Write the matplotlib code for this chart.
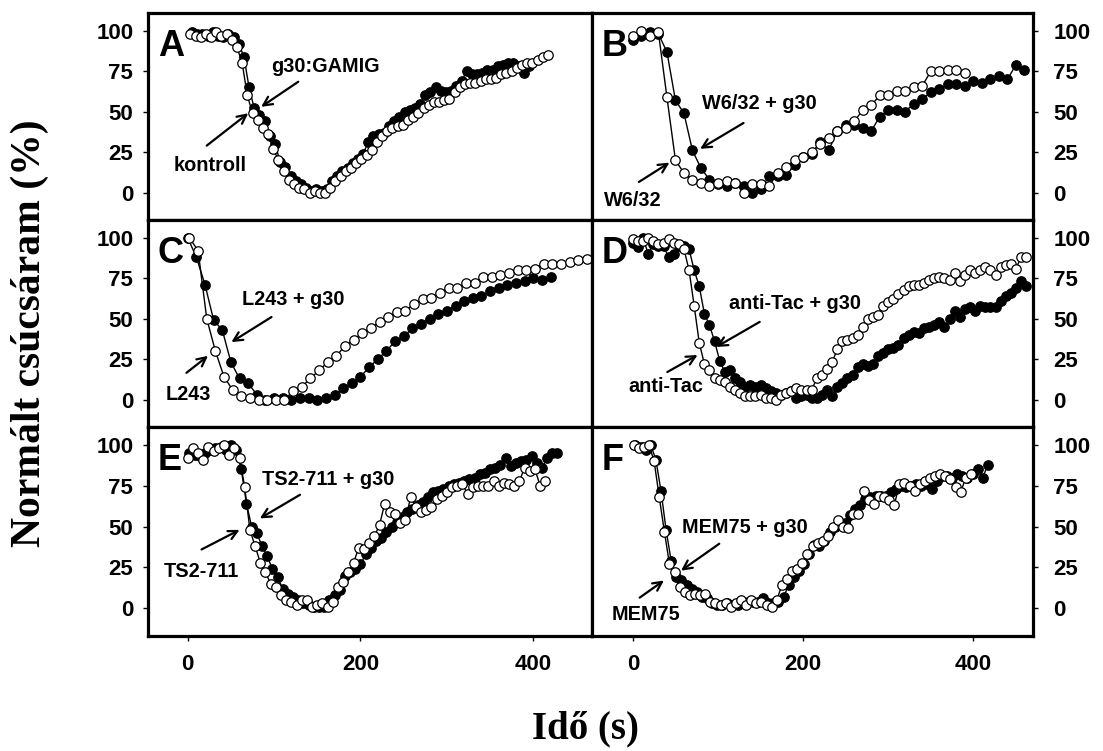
import numpy as np
import matplotlib.pyplot as plt

# --- data (normalised peak current, %) ---
# A: kontroll (open) vs g30:GAMIG (filled)
a_fill = [99,98,98,97,99,97,96,98,96,92, 84,65,52,48,44,35,30,19,16,10,
          7,5,3,1,2,1,2,7,10,13, 15,18,21,24,31,35,36,37,41,44,
          47,50,51,52,55,60,62,65,63,62, 63,66,69,75,73,73,74,76,76,78,
          79,80,80,78,74,78]
a_open = [98,97,96,98,96,99,97,98,94,90, 80,60,49,45,40,36,27,20,13,8,
          5,3,2,0,1,0,0,3,7,10, 13,15,18,21,23,26,31,35,38,40,
          41,42,45,47,49,52,54,56,56,57, 58,62,65,67,68,68,69,70,70,71,
          73,74,75,77,79,80,80,82,84,85]
# B: W6/32 (open) vs W6/32 + g30 (filled)
b_fill = [94,97,99,98,87,57,49,26,15,8, 5,4,6,4,0,2,10,10,11,17,
          22,24,31,26,38,42,42,40,38,47, 51,51,50,55,58,62,64,67,67,66,
          69,68,70,72,70,79,76]
b_open = [97,100,97,99,59,20,12,8,6,4, 6,7,6,0,5,5,4,12,16,20,
          22,25,30,34,38,40,44,51,54,60, 60,63,63,65,66,75,75,76,76,74]
# C: L243 (open) vs L243 + g30 (filled)
c_fill = [100,88,71,49,43,23,13,10,3,0, 1,1,0,1,1,0,1,3,7,10,
          14,20,25,30,36,39,44,47,50,53, 55,58,61,63,64,67,69,71,72,73,
          75,74,76]
c_open = [100,92,50,30,14,6,2,1,0,0, 0,0,5,8,13,18,23,27,33,37,
          41,44,48,51,54,55,59,62,63,66, 69,69,72,72,76,76,77,78,80,80,
          81,84,84,84,85,86,87]
# D: anti-Tac (open) vs anti-Tac + g30 (filled)
d_fill = [97,94,100,90,96,95,95,88,90,95, 95,93,80,70,53,46,36,24,17,18,
          13,11,8,9,8,9,7,5,4,3, 4,5,1,2,3,1,1,3,6,2,
          8,10,13,15,20,22,21,22,27,29, 31,32,34,38,40,42,41,44,45,46,
          48,45,50,55,51,56,57,55,58,57, 57,57,61,64,66,69,73,70]
d_open = [99,98,98,100,98,96,97,99,97,96, 93,80,58,35,22,18,13,12,11,8,
          6,4,2,2,2,3,1,1,0,3, 4,5,7,6,6,6,13,15,19,23,
          31,36,37,38,40,45,50,51,52,58, 60,62,65,68,70,71,71,72,74,75,
          76,75,74,78,73,77,80,78,80,82, 80,77,82,83,84,81,88,88]
# E: TS2-711 (open) vs TS2-711 + g30 (filled)
e_fill = [95,94,93,95,97,98,99,97,100,97, 85,64,50,46,38,32,24,19,12,9,
          7,5,3,2,1,1,1,5,8,11, 20,22,24,27,33,37,41,43,47,50,
          53,56,59,61,63,65,68,71,72,73, 75,76,77,78,79,80,82,83,85,86,
          88,92,87,89,90,91,93,89,86,92, 95,95]
e_open = [92,98,95,91,99,96,98,100,94,98, 92,74,48,38,28,22,15,13,8,5,
          4,2,5,5,1,2,3,1,4,13, 16,22,28,37,36,40,44,51,64,59,
          58,52,54,68,62,59,60,62,67,69, 71,74,75,76,70,74,75,75,75,78,
          75,77,76,75,78,86,84,85,75,78]
# F: MEM75 (open) vs MEM75 + g30 (filled)
f_fill = [100,99,97,100,91,72,48,29,19,17, 14,12,10,7,6,3,2,2,3,2,
          2,3,4,4,4,6,3,3,4,7, 14,19,23,27,33,39,38,41,47,50,
          52,52,57,61,63,67,68,69,69,69, 71,73,75,74,75,76,75,76,73,78,
          81,81,80,82,81,80,82,85,80,88]
f_open = [100,98,99,100,90,68,47,27,22,13, 10,8,9,8,9,4,3,2,3,1,
          3,5,2,5,3,4,2,1,5,14, 18,23,24,28,33,38,40,41,44,50,
          54,50,49,58,58,72,66,64,69,68, 66,63,76,77,75,72,76,78,80,81,
          82,81,79,74,71,80,82]

# sampling: (first time point, interval) in seconds
a_t = (5, 6); a_to = (3, 6)
b_t = (0, 10); b_to = (0, 10)
c_t = (0, 10); c_to = (2, 10)
d_t = (0, 6); d_to = (0, 6)
e_t = (2, 6); e_to = (0, 6)
f_t = (3, 6); f_to = (1, 6)

xticks = [0, 200, 400]
yticks = [0, 25, 50, 75, 100]

sans = 'Liberation Sans'
serif = 'Liberation Serif'


def times(y, spec):
	return spec[0] + spec[1]*np.arange(len(y))


def panel(ax, yf, tf, yo, to, letter, notes, right, bottom, xlim):
	ax.plot(times(yf, tf), yf, '-o', color='black', lw=1.0, ms=6.8,
			mfc='black', mec='black', mew=0.9, zorder=3)
	ax.plot(times(yo, to), yo, '-o', color='black', lw=1.0, ms=6.8,
			mfc='white', mec='black', mew=0.9, zorder=4)
	ax.set_xlim(xlim)
	ax.set_ylim(-17, 111)
	for s in ax.spines.values():
		s.set_linewidth(2.3)
	ax.set_yticks(yticks)
	ax.set_yticklabels([str(v) for v in yticks], fontfamily=sans,
					   fontweight='bold', fontsize=16)
	if right:
		ax.yaxis.tick_right()
		ax.tick_params(axis='y', direction='out', length=3.6, width=1, pad=11)
	else:
		ax.tick_params(axis='y', direction='out', length=3.6, width=1, pad=7)
	if bottom:
		ax.set_xticks(xticks)
		ax.set_xticklabels([str(v) for v in xticks], fontfamily=sans,
						   fontweight='bold', fontsize=16)
		ax.tick_params(axis='x', direction='out', length=3.6, width=1, pad=9)
	else:
		ax.set_xticks([])
	ax.text(0.022, 0.925, letter, transform=ax.transAxes, va='top', ha='left',
			fontfamily=sans, fontweight='bold', fontsize=26)
	# labels with arrows: (text, text xy, arrow tail, arrow head)
	for txt, pos, tail, head in notes:
		ax.text(pos[0], pos[1], txt, ha='center', va='center',
				fontfamily=sans, fontweight='bold', fontsize=14.3, zorder=6)
		ax.annotate('', xy=head, xytext=tail, zorder=6,
					arrowprops=dict(arrowstyle='->', lw=1.6, color='black',
									mutation_scale=16, shrinkA=0, shrinkB=0))


fig = plt.figure(figsize=(11.03, 7.51), dpi=100)

W, H = 1103.0, 751.0
lx, lw_ = 148/W, 444/W
rx, rw_ = 592/W, 441/W
rows = [(13, 220), (220, 427), (427, 636)]
xl_left = (-46, 468)
xl_right = (-48, 470)

axs = []
for i, (top, bot) in enumerate(rows):
	b = 1 - bot/H
	h = (bot - top)/H
	axs.append((fig.add_axes([lx, b, lw_, h]), fig.add_axes([rx, b, rw_, h])))

panel(axs[0][0], a_fill, a_t, a_open, a_to, 'A',
	  [('g30:GAMIG', (159, 78), (128, 68.5), (85, 53)),
	   ('kontroll', (26, 17), (22, 29), (70, 49))],
	  False, False, xl_left)
panel(axs[0][1], b_fill, b_t, b_open, b_to, 'B',
	  [('W6/32 + g30', (149, 55), (130, 43), (79, 27)),
	   ('W6/32', (0, -5), (7, 6.5), (43, 18.5))],
	  True, False, xl_right)
panel(axs[1][0], c_fill, c_t, c_open, c_to, 'C',
	  [('L243 + g30', (122, 62), (97, 51), (50.5, 35.5)),
	   ('L243', (0.5, 3), (-1.5, 16.5), (23.5, 27))],
	  False, False, xl_left)
panel(axs[1][1], d_fill, d_t, d_open, d_to, 'D',
	  [('anti-Tac + g30', (190, 59.5), (149, 48), (98, 32.5)),
	   ('anti-Tac', (38.5, 8), (40.5, 17), (76, 27.5))],
	  True, False, xl_right)
panel(axs[2][0], e_fill, e_t, e_open, e_to, 'E',
	  [('TS2-711 + g30', (163, 79), (130, 69.5), (83.5, 55)),
	   ('TS2-711', (16, 22.5), (16, 36), (60, 48))],
	  False, True, xl_left)
panel(axs[2][1], f_fill, f_t, f_open, f_to, 'F',
	  [('MEM75 + g30', (131, 49.5), (101.5, 39.5), (56.5, 23)),
	   ('MEM75', (15, -4), (8, 6.5), (36.5, 17))],
	  True, True, xl_right)

fig.text(30/W, 1 - 333/H, 'Normált csúcsáram (%)', rotation=90,
		 ha='center', va='center', fontfamily=serif, fontweight='bold',
		 fontsize=30)
fig.text(585/W, 1 - 729/H, 'Idő (s)', ha='center', va='center',
		 fontfamily=serif, fontweight='bold', fontsize=28)

fig.savefig('out.png', dpi=100)
